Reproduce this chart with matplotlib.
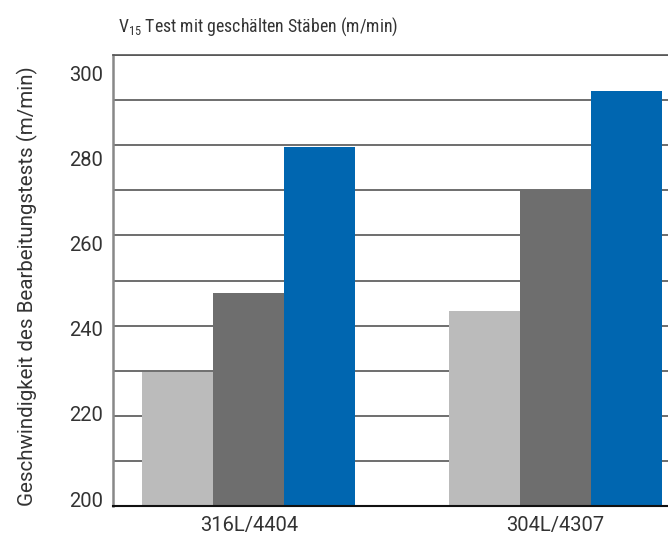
import numpy as np
import matplotlib
matplotlib.use("Agg")
import matplotlib.pyplot as plt

plt.rcParams['font.family'] = ['Roboto', 'DejaVu Sans']
plt.rcParams['mathtext.default'] = 'regular'

# data
Groups = ["316L/4404", "304L/4307"]
Light = [229.7, 243.2]   # light grey bars
Dark = [247.2, 270.0]    # dark grey bars
Blue = [279.5, 292.1]    # blue bars
YLabelTicks = [200, 220, 240, 260, 280, 300]

Colours = ["#bbbbbb", "#6e6e6e", "#0066b0"]

fig = plt.figure(figsize=(6.68, 5.38), dpi=100)
ax = fig.add_axes([113/668, 1-506/538, 578/668, 451/538])

x = np.arange(len(Groups))
w = 0.232
for k, vals in enumerate([Light, Dark, Blue]):
    ax.bar(x + (k-1)*w, np.array(vals)-200, width=w, bottom=200,
           color=Colours[k], zorder=2)

ax.set_xlim(-0.444, 1.444)
ax.set_ylim(200, 300)

# grid every 10 units, no labels on the main axis
ax.set_yticks(np.arange(200, 301, 10))
ax.yaxis.grid(True, color="#555555", linewidth=1.2, zorder=0)
ax.set_axisbelow(True)
ax.tick_params(axis='y', length=0, labelleft=False)

ax.set_xticks(x)
ax.set_xticklabels(Groups, fontsize=14.5, color="#333333")
ax.tick_params(axis='x', length=0, pad=7)

ax.spines['top'].set_color("#555555")
ax.spines['top'].set_linewidth(1.2)
ax.spines['right'].set_visible(False)
ax.spines['bottom'].set_color("#111111")
ax.spines['bottom'].set_linewidth(1.5)
ax.spines['left'].set_color("#888888")
ax.spines['left'].set_linewidth(1.8)

# the printed tick labels sit on their own slightly compressed scale
def fwd(v):
    return 200 + (v - 201.55)/0.9425
def inv(L):
    return 201.55 + (L - 200)*0.9425

sec = ax.secondary_yaxis('left', functions=(fwd, inv))
sec.set_yticks(YLabelTicks)
sec.tick_params(length=0, pad=7, labelsize=14.5, labelcolor="#333333")
sec.spines['left'].set_visible(False)

fig.text(27/668, 1-286/538, "Geschwindigkeit des Bearbeitungstests (m/min)",
         rotation=90, ha='center', va='center', fontsize=14.8, color="#333333")

fig.text(118/668, 1-32/538, "V$_{15}$ Test mit geschälten Stäben (m/min)",
         ha='left', va='baseline', fontsize=12.8, color="#333333",
         family=['Roboto Condensed', 'Liberation Sans Narrow', 'Roboto'])

fig.savefig("out.png", dpi=100)
